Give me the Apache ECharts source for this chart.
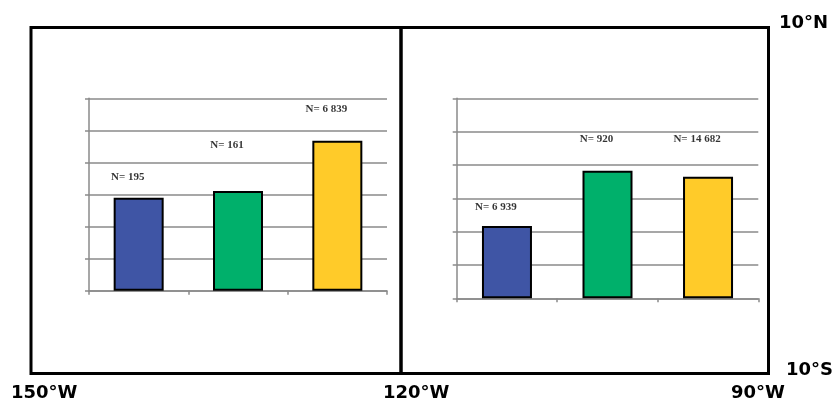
<!DOCTYPE html>
<html>
<head>
<meta charset="utf-8">
<script src="https://cdn.jsdelivr.net/npm/echarts@6/dist/echarts.min.js"></script>
<style>
html,body{margin:0;padding:0;background:#fff;}
#chart{width:837px;height:404px;}
</style>
</head>
<body>
<div id="chart"></div>
<script>
// ---- data ----
const categories = ['1', '2', '3'];
const leftValues = [2.90, 3.11, 4.68];
const rightValues = [2.17, 3.83, 3.65];
const leftN = ['N= 195', 'N= 161', 'N= 6 839'];
const rightN = ['N= 6 939', 'N= 920', 'N= 14 682'];
const leftLabelLevel = [3.55, 4.54, 5.67];
const rightLabelLevel = [2.74, 4.78, 4.78];
const latLabels = ['10°N', '10°S'];
const lonLabels = ['150°W', '120°W', '90°W'];

// ---- styles ----
const barColors = ['#3F55A5', '#00B06B', '#FFCB29'];
const gridGray = '#8a8a8a';

const chart = echarts.init(document.getElementById('chart'));

function xAx(gi) {
  return {
    type: 'category', gridIndex: gi, data: categories, boundaryGap: true,
    axisLine: {show: true, lineStyle: {color: gridGray, width: 1.5}},
    axisTick: {show: true, length: 4, lineStyle: {color: gridGray, width: 1.5}},
    axisLabel: {show: false}
  };
}
function yAx(gi) {
  return {
    type: 'value', gridIndex: gi, min: 0, max: 6, interval: 1,
    axisLine: {show: true, lineStyle: {color: gridGray, width: 1.5}},
    axisTick: {show: true, inside: false, length: 4, lineStyle: {color: gridGray, width: 1.5}},
    axisLabel: {show: false},
    splitLine: {show: true, lineStyle: {color: gridGray, width: 1.5}}
  };
}
function bars(vals, gi) {
  return {
    type: 'bar', xAxisIndex: gi, yAxisIndex: gi, barWidth: 50,
    data: vals.map((v, i) => ({value: v, itemStyle: {color: barColors[i]}})),
    itemStyle: {borderColor: '#000', borderWidth: 2},
    silent: true
  };
}
function labels(levels, texts, gi) {
  return {
    type: 'scatter', xAxisIndex: gi, yAxisIndex: gi, symbolSize: 0,
    data: levels.map((v, i) => [i, v]),
    label: {
      show: true, position: 'inside', offset: [-11, 0],
      formatter: p => texts[p.dataIndex],
      fontFamily: 'Liberation Serif', fontWeight: 'bold', fontSize: 11, color: '#000'
    },
    silent: true
  };
}

const txtStyle = {fontFamily: 'DejaVu Sans', fontWeight: 'bold', fontSize: 18, fill: '#000'};

chart.setOption({
  animation: false,
  backgroundColor: '#fff',
  grid: [
    {left: 89, top: 98.3, width: 298, height: 192.4},
    {left: 456.7, top: 98.3, width: 301.6, height: 200}
  ],
  xAxis: [xAx(0), xAx(1)],
  yAxis: [yAx(0), yAx(1)],
  series: [
    bars(leftValues, 0), bars(rightValues, 1),
    labels(leftLabelLevel, leftN, 0), labels(rightLabelLevel, rightN, 1)
  ],
  graphic: [
    {type: 'rect', shape: {x: 31, y: 27.5, width: 737.5, height: 346}, style: {fill: 'none', stroke: '#000', lineWidth: 3}, z: 100},
    {type: 'line', shape: {x1: 401, y1: 27.5, x2: 401, y2: 373.5}, style: {stroke: '#000', lineWidth: 3.5}, z: 100},
    {type: 'text', left: 779, top: 14, style: Object.assign({text: latLabels[0]}, txtStyle)},
    {type: 'text', left: 786, top: 361, style: Object.assign({text: latLabels[1]}, txtStyle)},
    {type: 'text', left: 11, top: 384, style: Object.assign({text: lonLabels[0]}, txtStyle)},
    {type: 'text', left: 383, top: 384, style: Object.assign({text: lonLabels[1]}, txtStyle)},
    {type: 'text', left: 731, top: 384, style: Object.assign({text: lonLabels[2]}, txtStyle)}
  ]
});
</script>
</body>
</html>
